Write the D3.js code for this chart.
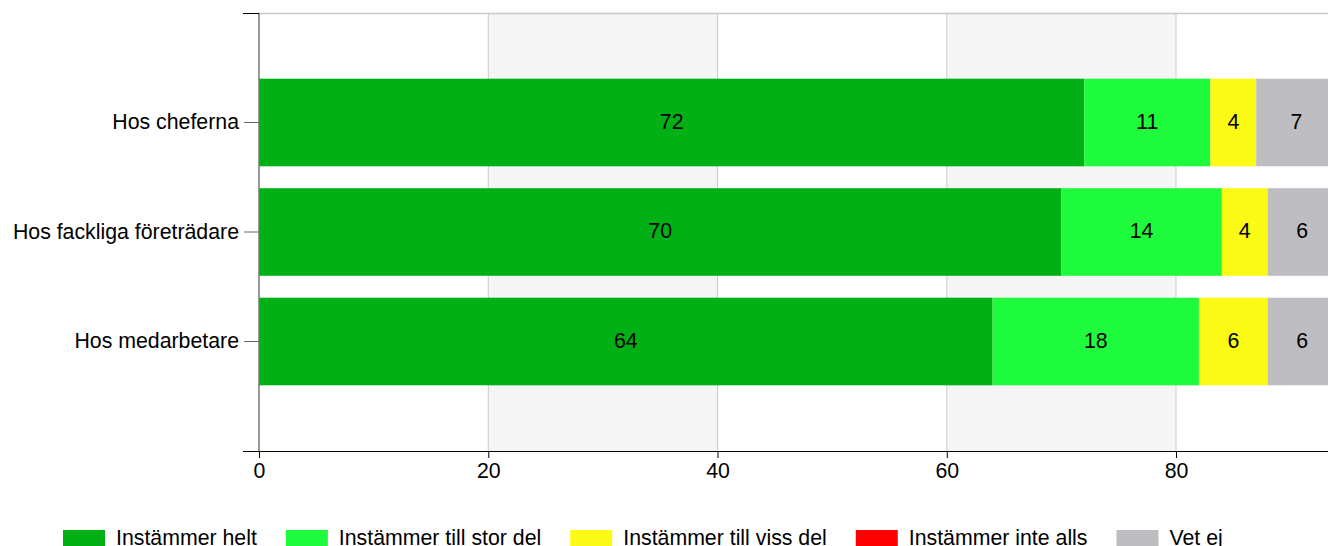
<!doctype html><html><head><style>body{margin:0;overflow:hidden}svg{display:block;font-family:"Liberation Sans",Arial,sans-serif}</style></head><body><script src='https://d3js.org/d3.v7.min.js'></script>
<script>
  const categories = ["Hos cheferna", "Hos fackliga företrädare", "Hos medarbetare"];
  const seriesNames = ["Instämmer helt", "Instämmer till stor del", "Instämmer till viss del", "Instämmer inte alls", "Vet ej"];
  const seriesColors = ["#00b015", "#1efa3c", "#fafa14", "#ff0000", "#bebdc2"];
  const helt = [72, 70, 64];
  const storDel = [11, 14, 18];
  const vissDel = [4, 4, 6];
  const inteAlls = [0, 0, 0];
  const vetEj = [7, 6, 6];
  const xTicks = [0, 20, 40, 60, 80];

  const width = 1328, height = 546;
  const plotLeft = 259, plotTop = 13, plotBottom = 451;
  const fs = "21.3px";

  const svg = d3.select("body").append("svg")
    .attr("width", width).attr("height", height);

  const x = d3.scaleLinear().domain([0, 100]).range([plotLeft, plotLeft + 100 * 11.4625]);
  const y = d3.scaleBand().domain(categories).range([plotTop, plotBottom])
    .paddingInner(0.2).paddingOuter(0.6);

  // alternating background bands
  for (let i = 0; i < xTicks.length - 1; i++) {
    if (i % 2 == 1) {
      svg.append("rect")
        .attr("x", x(xTicks[i])).attr("y", plotTop)
        .attr("width", x(xTicks[i + 1]) - x(xTicks[i]))
        .attr("height", plotBottom - plotTop)
        .attr("fill", "#f5f5f5");
    }
  }
  // grid lines
  svg.selectAll(".grid").data(xTicks.slice(1)).enter().append("line")
    .attr("x1", d => x(d)).attr("x2", d => x(d))
    .attr("y1", plotTop).attr("y2", plotBottom)
    .attr("stroke", "#cccccc");
  svg.append("line").attr("x1", plotLeft).attr("x2", width)
    .attr("y1", plotTop + 0.5).attr("y2", plotTop + 0.5).attr("stroke", "#c8c8c8").attr("stroke-width", 1.5);

  // stacked bars
  const rows = categories.map((c, i) => ({cat: c, vals: [helt[i], storDel[i], vissDel[i], inteAlls[i], vetEj[i]]}));
  rows.forEach(r => {
    let acc = 0;
    r.vals.forEach((v, k) => {
      const x0 = acc;
      acc += v;
      if (v <= 0) return;
      svg.append("rect")
        .attr("x", x(x0)).attr("y", y(r.cat))
        .attr("width", x(acc) - x(x0)).attr("height", y.bandwidth())
        .attr("fill", seriesColors[k]);
      svg.append("text")
        .attr("x", (x(x0) + x(acc)) / 2)
        .attr("y", y(r.cat) + y.bandwidth() / 2 - 1)
        .attr("dy", ".35em")
        .attr("text-anchor", "middle")
        .attr("font-size", fs)
        .attr("fill", "#000")
        .text(v);
    });
  });

  // x axis
  const xAxis = svg.append("g").attr("transform", "translate(0," + plotBottom + ")")
    .call(d3.axisBottom(x).tickValues(xTicks).tickSize(7).tickPadding(5));
  xAxis.select(".domain").remove();
  xAxis.selectAll("text").attr("font-size", fs).attr("fill", "#000").attr("font-family", "Liberation Sans, Arial, sans-serif");
  xAxis.selectAll("line").attr("stroke", "#000");
  svg.append("line").attr("x1", 243).attr("x2", width)
    .attr("y1", plotBottom + 0.5).attr("y2", plotBottom + 0.5).attr("stroke", "#000");

  // y axis
  const yAxis = svg.append("g").attr("transform", "translate(" + plotLeft + ",0)")
    .call(d3.axisLeft(y).tickSize(15).tickPadding(5));
  yAxis.select(".domain").remove();
  yAxis.selectAll("text").attr("font-size", fs).attr("fill", "#000").attr("font-family", "Liberation Sans, Arial, sans-serif");
  yAxis.selectAll("line").attr("stroke", "#666");
  svg.append("line").attr("x1", plotLeft).attr("x2", plotLeft)
    .attr("y1", plotTop).attr("y2", plotBottom).attr("stroke", "#777").attr("stroke-width", 1.5);
  svg.append("line").attr("x1", 243).attr("x2", plotLeft)
    .attr("y1", plotTop + 0.5).attr("y2", plotTop + 0.5).attr("stroke", "#000");

  // legend
  let lx = 63;
  seriesNames.forEach((n, i) => {
    svg.append("rect").attr("x", lx).attr("y", 530).attr("width", 42).attr("height", 18)
      .attr("fill", seriesColors[i]);
    const t = svg.append("text").attr("x", lx + 53).attr("y", 545)
      .attr("font-size", fs).attr("fill", "#000").text(n);
    lx += 53 + t.node().getComputedTextLength() + 29;
  });
</script></body></html>
